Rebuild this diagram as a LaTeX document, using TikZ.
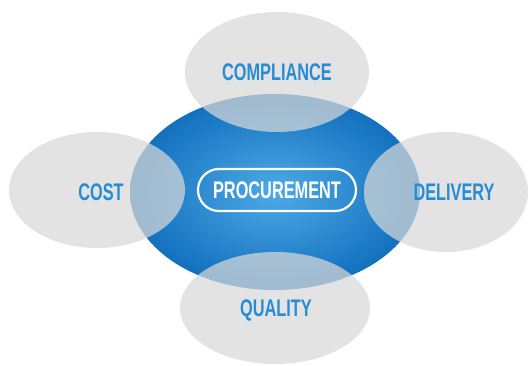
\documentclass[tikz,border=0pt]{standalone}
\usepackage{fontspec}
\newfontfamily\condfont[FakeStretch=0.68]{Liberation Sans}
\definecolor{coreblue}{RGB}{78,170,230}
\definecolor{rimblue}{RGB}{18,112,190}
\definecolor{petalgray}{RGB}{216,216,216}
\definecolor{wordblue}{RGB}{38,140,212}
\begin{document}
\begin{tikzpicture}[x=1pt,y=-1pt,
    petal/.style={fill=petalgray,fill opacity=0.72},
    factor/.style={font=\condfont\bfseries\fontsize{24}{24}\selectfont,text=wordblue,
      text height=17pt,text depth=0pt,inner sep=0pt},
    hub/.style={factor,text=white,draw=white,line width=2.2pt,rounded corners=21pt,
      minimum width=158pt,minimum height=42pt}]
  \useasboundingbox (0,0) rectangle (529,366);
  % centre
  \shade[inner color=coreblue,outer color=rimblue] (275,192) ellipse [x radius=145, y radius=98];
  % the four petals
  \fill[petal] (277,72) ellipse [x radius=92, y radius=60];
  \fill[petal] (97,190) ellipse [x radius=88, y radius=58];
  \fill[petal] (446,192) ellipse [x radius=82, y radius=60];
  \fill[petal] (275,308) ellipse [x radius=95, y radius=56];
  % labels
  \node[factor] (compliance) at (277,72) {COMPLIANCE};
  \node[factor] (cost) at (101,192) {COST};
  \node[factor] (delivery) at (454,192) {DELIVERY};
  \node[factor] (quality) at (276,308) {QUALITY};
  \node[hub] (procurement) at (277,190) {PROCUREMENT};
\end{tikzpicture}
\end{document}
